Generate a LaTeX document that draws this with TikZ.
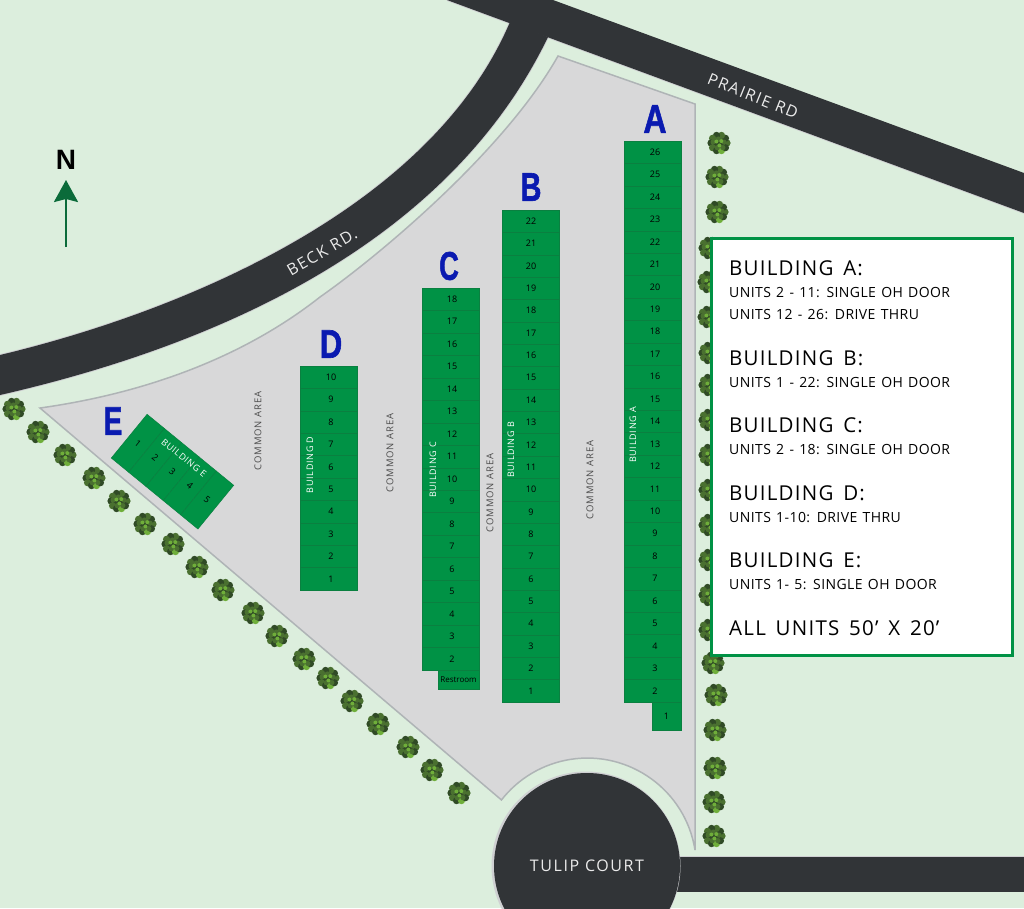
\documentclass[tikz,border=0pt]{standalone}
\usepackage{fontspec}
\setmainfont{Open Sans}
\newfontfamily\letterfont[BoldFeatures={FakeBold=1.6}]{Liberation Sans}
\newfontfamily\northfont{Liberation Sans}
\newfontfamily\legendfont[LetterSpace=6,WordSpace=1.5]{Open Sans}
\newfontfamily\unitsfont[LetterSpace=3,WordSpace=1.3]{Open Sans}
\newfontfamily\roadfont[LetterSpace=10]{Open Sans}
\newfontfamily\namefont[LetterSpace=8]{Open Sans}
\newfontfamily\commonfont[LetterSpace=10]{Open Sans}
\usetikzlibrary{arrows.meta}
\definecolor{grass}{HTML}{DCEEDD}
\definecolor{lot}{HTML}{D8D8D9}
\definecolor{lotedge}{HTML}{AFB4B6}
\definecolor{asphalt}{HTML}{313437}
\definecolor{halo}{HTML}{CFD0D2}
\definecolor{unitgreen}{HTML}{009245}
\definecolor{unitline}{HTML}{0A8040}
\definecolor{letterblue}{HTML}{0A1AB0}
\definecolor{arrowgreen}{HTML}{0B6B3A}
\definecolor{leafdark}{HTML}{304A26}
\definecolor{leafmid}{HTML}{4A7030}
\definecolor{leaflight}{HTML}{6FAE3A}
\newcommand{\shrub}[2]{%
 \begin{scope}[shift={(#1,#2)}]
  \fill[leafdark] (0,0) circle[radius=9pt];
  \foreach \ang/\col in {0/leafmid,36/leafdark,72/leafmid,108/leafdark,144/leafmid,180/leafdark,216/leafmid,252/leafdark,288/leaflight,324/leafdark}
   \fill[\col] (\ang:8pt) circle[radius=3.6pt];
  \foreach \ang/\rad in {10/5,100/4,170/6,250/5,310/6}
   \fill[leafmid] (\ang:\rad pt) circle[radius=2.6pt];
  \foreach \ang/\rad in {40/3,150/3,280/2.5}
   \fill[leaflight] (\ang:\rad pt) circle[radius=2pt];
 \end{scope}}
\begin{document}
\begin{tikzpicture}[x=1pt,y=-1pt]
 \tikzstyle{unitbox}=[draw=unitline, line width=0.5pt, fill=unitgreen, text=black, inner sep=0pt, font=\fontsize{9}{10}\selectfont]
 \tikzstyle{bldgname}=[text=white, inner sep=0pt, rotate=90, font=\namefont\fontsize{9}{10}\selectfont]
 \tikzstyle{commonname}=[text=black!70, inner sep=0pt, rotate=90, font=\commonfont\fontsize{9.5}{10}\selectfont]
 \tikzstyle{letter}=[text=letterblue, inner sep=0pt, font=\letterfont\bfseries\fontsize{40}{40}\selectfont]
 \tikzstyle{roadname}=[text=white!92!black, inner sep=0pt, font=\roadfont\fontsize{16}{18}\selectfont]
 \tikzstyle{head}=[anchor=west, text=black, inner sep=0pt, font=\legendfont\fontsize{20.5}{24}\selectfont]
 \tikzstyle{sub}=[anchor=west, text=black, inner sep=0pt, font=\unitsfont\fontsize{14}{16}\selectfont]
 \tikzstyle{roadfill}=[fill=asphalt]
 \tikzstyle{roadedge}=[draw=halo, line width=1.8pt]
 \useasboundingbox (0,0) rectangle (1024,908);
 \fill[grass] (0,0) rectangle (1024,908);
 \begin{scope}
 \clip (0,0) rectangle (1024,908);
 % roads
 \draw[roadedge] (447,0) -- (1024,213);
 \draw[roadedge] (0,355) .. controls (180,312) and (430,210) .. (510,22);
 \draw[roadedge] (0,395) .. controls (205,348) and (445,250) .. (548,37);
 \fill[roadfill] (447,0) -- (1024,213) -- (1024,173) -- (553,0) -- cycle;
 \fill[roadfill] (0,355) .. controls (180,312) and (430,210) .. (510,22) -- (548,37)
   .. controls (445,250) and (205,348) .. (0,395) -- cycle;
 \fill[roadfill] (670,857) -- (1024,857) -- (1024,892) -- (670,892) -- cycle;
 \draw[halo, line width=0.8pt] (680,856.5) -- (1024,856.5);
 \fill[halo] (586,866) circle[radius=94.5pt];
 \fill[asphalt] (587,866) circle[radius=93pt];
 \end{scope}
 % lot
 \draw[fill=lot, draw=lotedge, line width=1.5pt] (558,56) -- (695,104) -- (695,850)
   arc[start angle=9, end angle=142, radius=109pt] -- (40,408)
   .. controls (140,394) and (240,360) .. (320,297)
   .. controls (380,255) and (505,150) .. (558,56) -- cycle;
 % trees along the diagonal
 \foreach \tx/\ty in {14/409,38/432,65/455,94/478,119/501,145/524,173/544,197/567,223/590,253/613,277/636,304/659,328/678,352/701,378/724,408/747,432/770,459/793}
  \shrub{\tx}{\ty};
 % trees on the east side
 \foreach \tx/\ty in {719/143,717/177,717/212,710/248,709/282,709/317,710/353,710/385,710/420,710/455,710/490,710/525,710/560,710/595,710/630,713/663,716/695,715/730,715/768,714/802,714/836}
  \shrub{\tx}{\ty};
 % building A
 \node[unitbox, minimum width=29pt, minimum height=28pt] (A1) at (666.5,716) {1};
 \foreach \n in {2,...,26}
  \node[unitbox, minimum width=57pt, minimum height=22.44pt] (A\n) at (652.5,{702-(\n-1.5)*22.44}) {\kern5pt\n};
 % building B
 \foreach \n in {1,...,22}
  \node[unitbox, minimum width=57pt, minimum height=22.36pt] (B\n) at (530.5,{702-(\n-0.5)*22.36}) {\kern1pt\n};
 % building C
 \node[unitbox, minimum width=41pt, minimum height=19pt, font=\fontsize{8}{9}\selectfont] (Crest) at (458.5,679.5) {Restroom};
 \foreach \n in {2,...,18}
  \node[unitbox, minimum width=57pt, minimum height=22.47pt] (C\n) at (450.5,{670-(\n-1.5)*22.47}) {\kern3pt\n};
 % building D
 \foreach \n in {1,...,10}
  \node[unitbox, minimum width=57pt, minimum height=22.4pt] (D\n) at (328.5,{590-(\n-0.5)*22.4}) {\kern5pt\n};
 % building E
 \foreach \n in {1,...,5}
  \node[unitbox, rotate=-39.3, minimum width=22.4pt, minimum height=56.5pt] (E\n) at ({129.2+17.32*(\n-0.5)},{436.15+14.2*(\n-0.5)}) {\raisebox{-6.5pt}{\n}};
 %
 \node[bldgname] (nameA) at (633,435) {BUILDING A};
 \node[bldgname] (nameB) at (511,450) {BUILDING B};
 \node[bldgname] (nameC) at (433,470) {BUILDING C};
 \node[bldgname] (nameD) at (310,465) {BUILDING D};
 \node[bldgname, rotate=-129.3] (nameE) at (184,458) {BUILDING E};
 %
 \node[commonname] (common1) at (258,431) {COMMON AREA};
 \node[commonname] (common2) at (390,453) {COMMON AREA};
 \node[commonname] (common3) at (490,493) {COMMON AREA};
 \node[commonname] (common4) at (590,480) {COMMON AREA};
 %
 \node[letter] (letA) at (655,119) {\scalebox{.8}[1]{A}};
 \node[letter] (letB) at (531,187) {\scalebox{.72}[1]{B}};
 \node[letter] (letC) at (449,266) {\scalebox{.68}[1]{C}};
 \node[letter] (letD) at (331,344) {\scalebox{.78}[1]{D}};
 \node[letter] (letE) at (113,421) {\scalebox{.7}[1]{E}};
 %
 \node[roadname, rotate=-22] (prairie) at (753,96) {PRAIRIE RD};
 \node[roadname, rotate=30] (beck) at (322,252) {BECK RD.};
 \node[roadname] (tulip) at (587,866) {TULIP COURT};
 % north arrow
 \node[text=black, inner sep=0pt, font=\northfont\bfseries\fontsize{28}{28}\selectfont] (north) at (66,160) {N};
 \coordinate (ntail) at (66,247);
 \coordinate (ntip) at (66,180);
 \draw[-{Stealth[width=24pt,length=22pt,inset=3pt]}, arrowgreen, line width=2.5pt] (ntail) -- (ntip);
 % legend
 \draw[fill=white, draw=unitgreen, line width=3pt] (711,238.3) rectangle (1012,655);
 \node[head] (legA) at (729,268) {BUILDING A:};
 \node[sub] (legA1) at (729,293) {UNITS 2 - 11: SINGLE OH DOOR};
 \node[sub] (legA2) at (729,315) {UNITS 12 - 26: DRIVE THRU};
 \node[head] (legB) at (729,358) {BUILDING B:};
 \node[sub] (legB1) at (729,383) {UNITS 1 - 22: SINGLE OH DOOR};
 \node[head] (legC) at (729,425) {BUILDING C:};
 \node[sub] (legC1) at (729,450) {UNITS 2 - 18: SINGLE OH DOOR};
 \node[head] (legD) at (729,493) {BUILDING D:};
 \node[sub] (legD1) at (729,518) {UNITS 1-10: DRIVE THRU};
 \node[head] (legE) at (729,560) {BUILDING E:};
 \node[sub] (legE1) at (729,585) {UNITS 1- 5: SINGLE OH DOOR};
 \node[head] (legall) at (729,628) {ALL UNITS 50’ X 20’};
\end{tikzpicture}
\end{document}
